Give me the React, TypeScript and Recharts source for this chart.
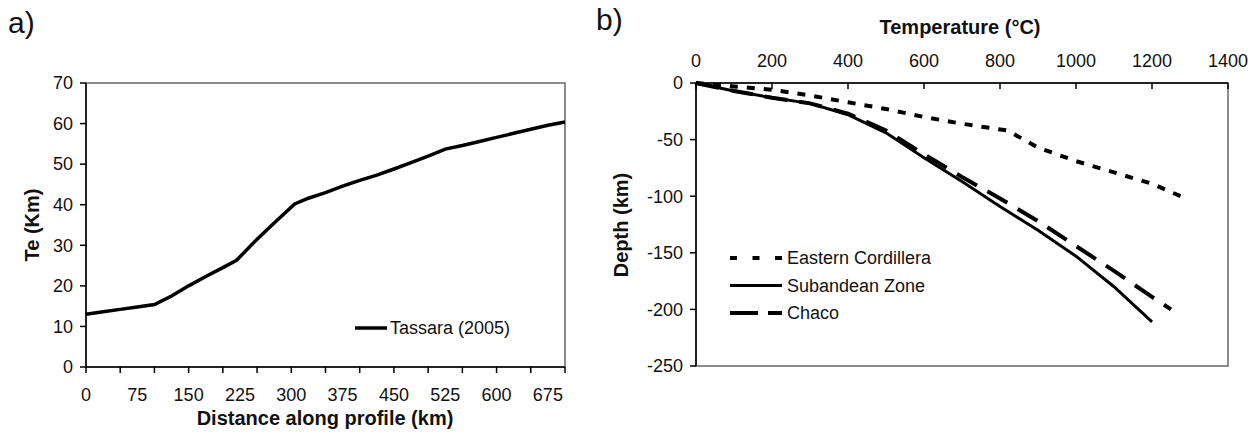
import React from 'react';
import { LineChart, Line, XAxis, YAxis, ReferenceArea, Legend } from 'recharts';

const FONT = '"Liberation Sans", Arial, Helvetica, sans-serif';

// panel a) elastic thickness along the profile
const distanceKm = [0, 25, 50, 75, 100, 125, 150, 175, 200, 220, 250, 275, 305, 325, 350, 375, 400, 425, 450, 475, 500, 525, 550, 575, 600, 625, 650, 675, 700];
const teKm = [13.0, 13.6, 14.2, 14.8, 15.4, 17.5, 20.0, 22.3, 24.5, 26.3, 31.5, 35.5, 40.2, 41.6, 43.0, 44.6, 46.0, 47.3, 48.8, 50.4, 52.0, 53.7, 54.6, 55.6, 56.6, 57.6, 58.6, 59.6, 60.4];
const distanceLabels = [0, 75, 150, 225, 300, 375, 450, 525, 600, 675];
const distanceMarks = [0, 50, 100, 150, 200, 250, 300, 350, 400, 450, 500, 550, 600, 650, 700];
const teTicks = [0, 10, 20, 30, 40, 50, 60, 70];

// panel b) geotherms
const ecTemp = [0, 100, 200, 300, 400, 500, 600, 700, 820, 900, 1000, 1100, 1200, 1275];
const ecDepth = [0, -3, -6, -11, -17, -23, -30, -36, -42, -57, -69, -79, -89, -100];
const szTemp = [0, 100, 200, 300, 400, 500, 600, 700, 800, 900, 1000, 1100, 1200];
const szDepth = [0, -7, -13, -18, -28, -44, -66, -87, -109, -130, -153, -180, -211];
const chTemp = [0, 100, 200, 300, 400, 500, 600, 700, 800, 900, 1000, 1100, 1200, 1250];
const chDepth = [0, -7, -13, -18, -27, -42, -63, -83, -102, -122, -144, -166, -189, -200];
const tempTicks = [0, 200, 400, 600, 800, 1000, 1200, 1400];
const depthTicks = [-250, -200, -150, -100, -50, 0];

const teData = distanceKm.map((d, i) => ({ km: d, te: teKm[i] }));
const ecData = ecTemp.map((t, i) => ({ temp: t, depth: ecDepth[i] }));
const szData = szTemp.map((t, i) => ({ temp: t, depth: szDepth[i] }));
const chData = chTemp.map((t, i) => ({ temp: t, depth: chDepth[i] }));
const distanceTicks = Array.from(new Set([...distanceMarks, ...distanceLabels])).sort((a, b) => a - b);

const geotherms = [
  { name: 'Eastern Cordillera', data: ecData, width: 4, dash: '8 9', legendDash: '7 15.5' },
  { name: 'Subandean Zone', data: szData, width: 3, dash: undefined, legendDash: undefined },
  { name: 'Chaco', data: chData, width: 4, dash: '23 12', legendDash: '28 10' },
];

const tickText = { fontSize: 18, fill: '#111', fontFamily: FONT };

const DistanceTick = (props: any) => {
  const { x, y, payload } = props;
  const v = payload.value;
  return (
    <g>
      {distanceMarks.includes(v) && <line x1={x} x2={x} y1={y} y2={y + 6} stroke="#000" strokeWidth={1.5} />}
      {distanceLabels.includes(v) && (
        <text x={x} y={y + 34} textAnchor="middle" {...tickText}>{v}</text>
      )}
    </g>
  );
};

const LeftYTick = (props: any) => {
  const { x, y, payload } = props;
  return (
    <g>
      <line x1={x - 6} x2={x} y1={y} y2={y} stroke="#000" strokeWidth={1.5} />
      <text x={x - 13} y={y} dy="0.35em" textAnchor="end" {...tickText}>{payload.value}</text>
    </g>
  );
};

const TempTick = (props: any) => {
  const { x, y, payload } = props;
  return (
    <g>
      <line x1={x} x2={x} y1={y} y2={y + 6} stroke="#000" strokeWidth={1.5} />
      <text x={x} y={y - 16} textAnchor="middle" {...tickText}>{payload.value}</text>
    </g>
  );
};

const DepthLegend = () => (
  <svg width={240} height={90}>
    {geotherms.map((g, i) => (
      <g key={g.name}>
        <line x1={0} x2={52} y1={13 + i * 27.5} y2={13 + i * 27.5} stroke="#000" strokeWidth={g.width} strokeDasharray={g.legendDash} />
        <text x={57} y={13 + i * 27.5} dy="0.35em" {...tickText}>{g.name}</text>
      </g>
    ))}
  </svg>
);

const TeLegend = () => (
  <svg width={180} height={26}>
    <line x1={0} x2={32} y1={13} y2={13} stroke="#000" strokeWidth={3.5} />
    <text x={35} y={13} dy="0.35em" {...tickText}>Tassara (2005)</text>
  </svg>
);

export default function App() {
  return (
    <div style={{ position: 'absolute', left: 0, top: 0, width: 1260, height: 441, background: '#fff', fontFamily: FONT }}>
      <div style={{ position: 'absolute', left: 0, top: 0 }}>
        <LineChart width={600} height={441} data={teData} margin={{ top: 83, right: 35, bottom: 24, left: 36 }}>
          <ReferenceArea x1={0} x2={700} y1={0} y2={70} fill="none" stroke="#666" strokeWidth={1.5} />
          <XAxis
            dataKey="km"
            type="number"
            domain={[0, 700]}
            ticks={distanceTicks}
            interval={0}
            height={50}
            tickSize={0}
            tickMargin={0}
            tickLine={false}
            tick={DistanceTick}
            axisLine={{ stroke: '#000', strokeWidth: 1.5 }}
          />
          <YAxis
            type="number"
            domain={[0, 70]}
            ticks={teTicks}
            interval={0}
            width={50}
            tickSize={0}
            tickMargin={0}
            tickLine={false}
            tick={LeftYTick}
            axisLine={{ stroke: '#000', strokeWidth: 1.5 }}
          />
          <Legend
            layout="vertical"
            align="center"
            verticalAlign="middle"
            content={TeLegend}
            wrapperStyle={{ left: 355, top: 315, width: 180, height: 26 }}
          />
          <Line type="linear" dataKey="te" name="Tassara (2005)" stroke="#000" strokeWidth={3.5} dot={false} isAnimationActive={false} />
        </LineChart>
      </div>

      <div style={{ position: 'absolute', left: 600, top: 0 }}>
        <LineChart width={660} height={441} margin={{ top: 43, right: 32, bottom: 75, left: 36 }}>
          <ReferenceArea x1={0} x2={1400} y1={-250} y2={0} fill="none" stroke="#666" strokeWidth={1.5} />
          <XAxis
            dataKey="temp"
            type="number"
            orientation="top"
            domain={[0, 1400]}
            ticks={tempTicks}
            interval={0}
            height={40}
            tickSize={0}
            tickMargin={0}
            tickLine={false}
            tick={TempTick}
            axisLine={{ stroke: '#000', strokeWidth: 1.5 }}
          />
          <YAxis
            type="number"
            domain={[-250, 0]}
            ticks={depthTicks}
            interval={0}
            width={60}
            tickSize={0}
            tickMargin={0}
            tickLine={false}
            tick={LeftYTick}
            axisLine={{ stroke: '#000', strokeWidth: 1.5 }}
          />
          <Legend
            layout="vertical"
            align="center"
            verticalAlign="middle"
            content={DepthLegend}
            wrapperStyle={{ left: 130, top: 245, width: 240, height: 90 }}
          />
          {geotherms.map(g => (
            <Line
              key={g.name}
              data={g.data}
              type="linear"
              dataKey="depth"
              name={g.name}
              stroke="#000"
              strokeWidth={g.width}
              strokeDasharray={g.dash}
              dot={false}
              isAnimationActive={false}
            />
          ))}
        </LineChart>
      </div>

      <svg width={1260} height={441} style={{ position: 'absolute', left: 0, top: 0, pointerEvents: 'none' }}>
        <text x={8} y={33} fontSize={30} fill="#111" fontFamily={FONT}>a)</text>
        <text x={596} y={30} fontSize={30} fill="#111" fontFamily={FONT}>b)</text>
        <text x={325} y={425} fontSize={20} fontWeight="bold" textAnchor="middle" fill="#111" fontFamily={FONT}>Distance along profile (km)</text>
        <text transform="translate(39,225) rotate(-90)" fontSize={20} fontWeight="bold" textAnchor="middle" fill="#111" fontFamily={FONT}>Te (Km)</text>
        <text x={960} y={34} fontSize={20} fontWeight="bold" textAnchor="middle" fill="#111" fontFamily={FONT}>Temperature (°C)</text>
        <text transform="translate(628,225) rotate(-90)" fontSize={20} fontWeight="bold" textAnchor="middle" fill="#111" fontFamily={FONT}>Depth (km)</text>
      </svg>
    </div>
  );
}
